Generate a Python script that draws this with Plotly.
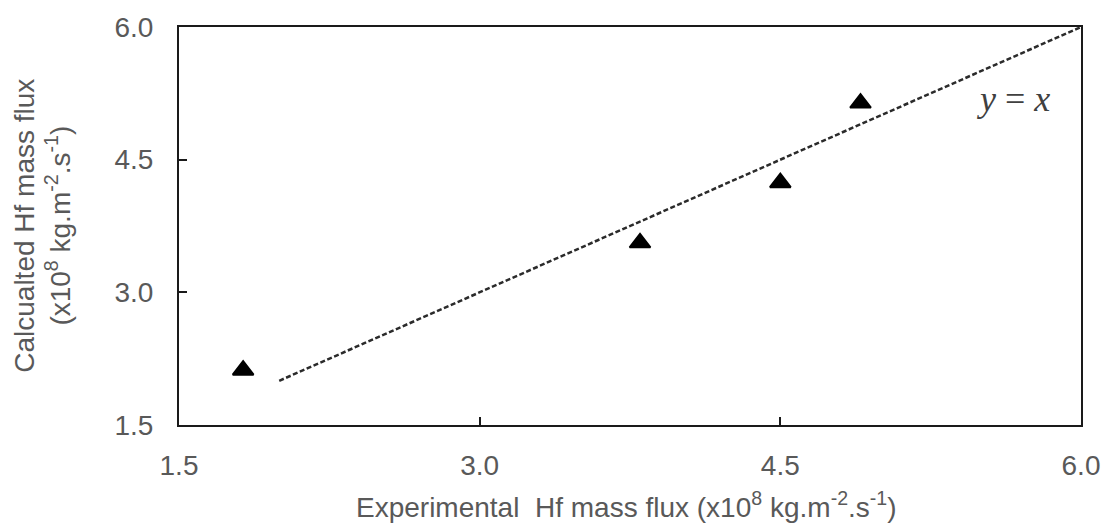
import plotly.graph_objects as go

# Experimental vs calculated Hf mass flux (x10^8 kg.m^-2.s^-1)
experimental = [1.82, 3.8, 4.5, 4.9]
calculated = [2.12, 3.56, 4.24, 5.14]

# Parity line y = x
parity_x = [2.0, 6.0]
parity_y = [2.0, 6.0]

tick_vals = [1.5, 3.0, 4.5, 6.0]
tick_text = ["1.5", "3.0", "4.5", "6.0"]

W, H = 1112, 529
L, R, T, B = 179, 26, 24, 104
pw, ph = W - L - R, H - T - B

fig = go.Figure()

fig.add_trace(go.Scatter(
    x=parity_x, y=parity_y, mode="lines",
    line=dict(color="#2b2b2b", width=2.5, dash="5px,2.5px"),
    showlegend=False, hoverinfo="skip",
))

fig.add_trace(go.Scatter(
    x=experimental, y=calculated, mode="markers",
    marker=dict(symbol="triangle-up", size=18, color="black",
                line=dict(color="black", width=2)),
    showlegend=False,
))

axis_common = dict(
    range=[1.5, 6.0],
    tickvals=tick_vals, ticktext=tick_text,
    showgrid=False, zeroline=False,
    showline=True, linecolor="#1a1a1a", linewidth=2, mirror=True,
    ticks="inside", ticklen=8, tickwidth=1.5, tickcolor="#1a1a1a",
    tickfont=dict(family="Liberation Sans, Arial", size=28, color="#595959"),
)

fig.update_xaxes(**axis_common, ticklabelstandoff=14)
fig.update_yaxes(**axis_common, ticklabelstandoff=18)

title_font = dict(family="Liberation Sans, Arial", size=28, color="#595959")

fig.add_annotation(
    text="Experimental  Hf mass flux (x10<sup>8</sup> kg.m<sup>-2</sup>.s<sup>-1</sup>)",
    xref="paper", yref="paper", x=(629 - L) / pw, y=-(506 - (H - B)) / ph,
    xanchor="center", yanchor="middle", showarrow=False, font=title_font,
)

fig.add_annotation(
    text="Calcualted Hf mass flux<br>(x10<sup>8</sup> kg.m<sup>-2</sup>.s<sup>-1</sup>)",
    xref="paper", yref="paper", x=(41 - L) / pw, y=0.5,
    xanchor="center", yanchor="middle", textangle=-90, showarrow=False,
    font=title_font,
)

fig.add_annotation(
    text="<i>y</i> = <i>x</i>",
    xref="paper", yref="paper", x=(1057 - L) / pw, y=1 - (97 - T) / ph,
    xanchor="right", yanchor="middle", showarrow=False,
    font=dict(family="Liberation Serif, DejaVu Serif", size=36, color="#404040"),
)

fig.update_layout(
    width=W, height=H,
    margin=dict(l=L, r=R, t=T, b=B),
    paper_bgcolor="white", plot_bgcolor="white",
)

fig.write_html("out.html")
